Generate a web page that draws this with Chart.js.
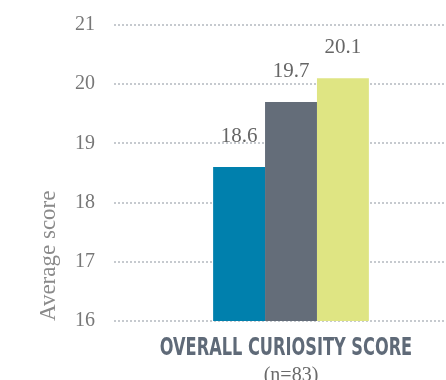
<!DOCTYPE html>
<html lang="en">
<head>
    <meta charset="UTF-8">
    <title>Overall Curiosity Score</title>
    <script src="https://cdn.jsdelivr.net/npm/chart.js@4/dist/chart.umd.min.js"></script>
    <style>
        body { margin: 0; background: #fff; overflow: hidden; }
        #wrap { width: 468px; height: 380px; overflow: hidden; }
        #wrap div { width: 468px; height: 398px; margin-top: -6px; }
    </style>
</head>
<body>
    <div id="wrap"><div><canvas id="myChart"></canvas></div></div>
    <script>
        const categories = ['OVERALL CURIOSITY SCORE'];
        const groups = ['Group A', 'Group B', 'Group C'];
        const scores = [18.6, 19.7, 20.1];
        const colors = ['#0080ad', '#646d79', '#dfe583'];
        const yTicks = [16, 17, 18, 19, 20, 21];

        const serif = '"Liberation Serif", serif';

        // value printed above each bar
        const valueLabels = {
            id: 'valueLabels',
            afterDatasetsDraw(chart) {
                const ctx = chart.ctx;
                ctx.save();
                ctx.font = '21px ' + serif;
                ctx.fillStyle = '#666';
                ctx.textAlign = 'center';
                ctx.textBaseline = 'alphabetic';
                chart.data.datasets.forEach((ds, i) => {
                    const bar = chart.getDatasetMeta(i).data[0];
                    ctx.fillText(ds.data[0].toFixed(1), bar.x, bar.y - 25);
                });
                ctx.restore();
            }
        };

        // condensed category caption under the bars
        const categoryCaption = {
            id: 'categoryCaption',
            afterDraw(chart) {
                const x = chart.scales.x;
                const ctx = chart.ctx;
                ctx.save();
                ctx.font = 'bold 25px "DejaVu Sans Condensed", "DejaVu Sans", sans-serif';
                ctx.fillStyle = '#5f6a78';
                ctx.textAlign = 'center';
                ctx.textBaseline = 'alphabetic';
                categories.forEach((c, i) => {
                    ctx.save();
                    ctx.translate(x.getPixelForValue(i) - 5, chart.chartArea.bottom + 34);
                    ctx.scale(0.72, 1);
                    ctx.fillText(c, 0, 0);
                    ctx.restore();
                });
                ctx.restore();
            }
        };

        const ctx = document.getElementById('myChart').getContext('2d');
        new Chart(ctx, {
            type: 'bar',
            data: {
                labels: categories,
                datasets: groups.map((g, i) => ({
                    label: g,
                    data: [scores[i]],
                    backgroundColor: colors[i],
                    borderWidth: 0,
                    categoryPercentage: 0.44,
                    barPercentage: 1
                }))
            },
            options: {
                responsive: true,
                maintainAspectRatio: false,
                animation: false,
                layout: { padding: { top: 12, left: 0, right: 0 } },
                plugins: {
                    legend: { display: false },
                    tooltip: { enabled: false }
                },
                scales: {
                    x: {
                        afterFit(scale) { scale.height = 71; },
                        grid: { display: false },
                        border: { display: false },
                        ticks: { display: false },
                        title: {
                            display: true,
                            text: '(n=83)',
                            color: '#6a6a6a',
                            padding: { top: 0, bottom: 4 },
                            font: { family: serif, size: 20 }
                        }
                    },
                    y: {
                        min: 16,
                        max: 21,
                        afterFit(scale) { scale.width = 114; },
                        afterBuildTicks(scale) { scale.ticks = yTicks.map(v => ({ value: v })); },
                        border: { display: false, dash: [2, 2] },
                        grid: {
                            color: '#c6cacf',
                            lineWidth: 2,
                            drawTicks: false
                        },
                        ticks: {
                            padding: 19,
                            color: '#777',
                            font: { family: serif, size: 20 }
                        },
                        title: {
                            display: true,
                            text: 'Average score',
                            align: 'start',
                            color: '#8a8a8a',
                            padding: { top: 35, bottom: 0 },
                            font: { family: serif, size: 23 }
                        }
                    }
                }
            },
            plugins: [valueLabels, categoryCaption]
        });
    </script>
</body>
</html>
